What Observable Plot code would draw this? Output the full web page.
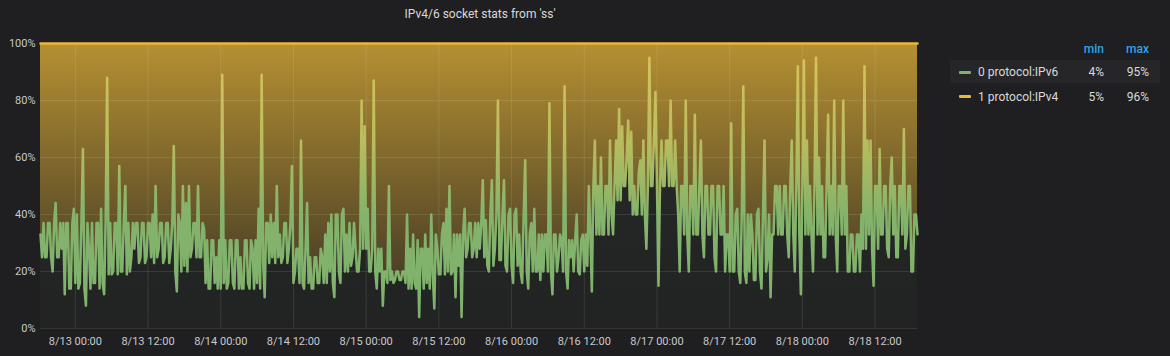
<!DOCTYPE html>
<html><head><meta charset="utf-8">
<script src="https://cdn.jsdelivr.net/npm/d3@7"></script>
<script src="https://cdn.jsdelivr.net/npm/@observablehq/plot@0.6"></script>
<style>
body{margin:0;background:#1f1f21;font-family:Roboto,"Noto Sans",sans-serif;}
#wrap{position:relative;width:1170px;height:356px;overflow:hidden;background:#1f1f21}
#title{position:absolute;left:0;width:960px;top:0;height:28px;line-height:28px;text-align:center;color:#d8d9da;font-size:12px;}
#chart{position:absolute;left:0;top:28px}
.lg{position:absolute;font-size:12px;color:#d8d9da;white-space:nowrap;line-height:14px}
.hd{color:#33a2e5;font-weight:500}
.r{text-align:right}
.sw{position:absolute;width:12px;height:3px;border-radius:1px}
</style></head>
<body><div id="wrap">
<div id="title">IPv4/6 socket stats from 'ss'</div>
<div id="chart"></div>
<div id="legend"></div>
</div>
<script>
// time axis: 15-minute samples starting 8/12 18:15
const startTime = Date.UTC(2019, 7, 12, 18, 15);
const stepMinutes = 15;
const endTime = Date.UTC(2019, 7, 18, 19, 0);
const xTickLabels = ["8/13 00:00","8/13 12:00","8/14 00:00","8/14 12:00","8/15 00:00","8/15 12:00","8/16 00:00","8/16 12:00","8/17 00:00","8/17 12:00","8/18 00:00","8/18 12:00"];
const yTickValues = [0, 20, 40, 60, 80, 100];
const seriesNames = ["0 protocol:IPv6", "1 protocol:IPv4"];
const seriesColors = ["#7eb26d", "#eab839"];
const legendMin = ["4%", "5%"];
const legendMax = ["95%", "96%"];

// IPv6 share (%) per 15-min sample, one block per 24 h
const ipv6Day1 = [
 33,25,37,25,25,37,37,25,20,37,44,25,25,37,28,37,12,37,37,14,
 14,37,42,16,40,14,16,37,63,14,8,37,28,14,37,16,16,37,37,14,
 42,16,12,37,88,19,37,19,20,37,37,19,57,20,20,37,50,19,37,20,
 25,37,28,37,37,23,25,37,37,23,25,37,37,25,40,23,50,25,28,37,
 37,23,25,37,37,23,28,37,64,20,13,40,37,20,50,22
];
const ipv6Day2 = [
 44,20,50,25,28,37,37,25,50,25,25,37,35,16,31,14,14,31,31,16,
 25,14,31,14,89,16,31,14,16,31,31,16,14,31,31,14,25,14,14,31,
 31,16,14,31,28,14,31,16,42,14,89,23,11,37,37,23,40,25,37,23,
 50,25,33,23,25,37,37,23,28,37,57,16,20,28,28,16,66,16,14,28,
 44,16,25,14,14,25,25,16,16,28,25,16,33,16,37,20
];
const ipv6Day3 = [
 40,16,11,40,40,20,16,40,42,20,33,20,37,22,25,37,28,20,20,28,
 80,28,71,28,42,20,20,28,87,20,14,28,20,28,8,20,20,16,50,17,
 20,16,17,20,20,17,17,20,20,16,40,14,28,14,33,16,14,31,4,28,
 28,14,33,16,28,14,40,19,7,33,28,19,19,33,37,19,42,20,50,19,
 20,33,11,33,22,33,4,33,42,25,28,37,37,25,28,37
];
const ipv6Day4 = [
 25,37,28,37,52,25,38,22,20,40,52,22,28,40,80,24,24,40,52,22,
 20,40,42,22,16,40,42,22,33,20,16,40,59,20,14,33,37,20,42,20,
 20,33,17,33,20,33,33,20,79,20,12,33,33,20,25,33,31,20,85,20,
 14,31,25,31,20,31,40,20,19,31,33,20,33,22,50,33,13,50,66,33,
 50,33,60,33,33,50,50,33,66,40,33,50,66,45,77,45
];
const ipv6Day5 = [
 71,50,50,60,73,45,69,40,50,40,40,55,59,40,66,40,28,50,95,50,
 50,66,83,50,15,50,66,50,50,66,66,50,80,50,50,66,50,40,20,50,
 50,33,80,33,20,50,50,33,75,33,33,50,66,33,25,50,50,33,33,50,
 50,25,20,50,50,33,33,50,20,33,33,20,72,20,20,40,42,20,16,40,
 85,20,16,40,20,40,33,17,17,40,42,20,14,40,66,20
];
const ipv6Day6 = [
 25,40,11,33,33,50,50,33,50,33,33,50,50,33,25,50,66,33,20,50,
 92,33,12,50,94,33,66,33,50,33,20,50,95,33,60,33,50,25,25,50,
 75,33,50,33,80,33,20,50,50,33,80,33,50,20,20,33,33,20,20,33,
 33,20,40,28,92,28,66,33,66,28,15,50,50,28,63,33,33,50,50,28,
 25,50,60,33,50,25,25,50,50,33,70,28,33,50,50,20,20,40,40,33
];
const ipv6 = [...ipv6Day1, ...ipv6Day2, ...ipv6Day3, ...ipv6Day4, ...ipv6Day5, ...ipv6Day6];
// IPv4 is the complement in this percent-stacked panel
const ipv4 = ipv6.map(v => 100 - v);

const parseTick = d3.utcParse("%Y %m/%d %H:%M");
const xTicks = xTickLabels.map(s => parseTick("2019 " + s));
const fmt = d3.utcFormat("%-m/%-d %H:%M");

const rows = ipv6.map((v, i) => ({
  t: new Date(startTime + i * stepMinutes * 60000),
  v6: v,
  v4: ipv4[i],
  top: v + ipv4[i]
}));

const chart = Plot.plot({
  width: 930, height: 328,
  marginLeft: 40, marginRight: 13, marginTop: 15, marginBottom: 28,
  style: {background: "transparent", color: "#c7c9cc", fontSize: "11px", fontFamily: "Roboto, sans-serif"},
  x: {type: "utc", domain: [new Date(startTime), new Date(endTime)], ticks: xTicks, tickFormat: fmt, tickSize: 0, tickPadding: 9, label: null},
  y: {domain: [0, 100], ticks: yTickValues, tickFormat: d => d + "%", tickSize: 0, tickPadding: 5, label: null},
  marks: [
    Plot.areaY(rows, {x: "t", y1: 0, y2: "v6", curve: "linear", fill: "url(#g6)"}),
    Plot.areaY(rows, {x: "t", y1: "v6", y2: "top", curve: "linear", fill: "url(#g4)"}),
    Plot.gridX(xTicks, {stroke: "#ffffff", strokeOpacity: 0.1}),
    Plot.gridY(yTickValues, {stroke: "#ffffff", strokeOpacity: 0.1}),
    Plot.line(rows, {x: "t", y: "top", stroke: seriesColors[1], strokeWidth: 2.5, curve: "linear"}),
    Plot.line(rows, {x: "t", y: "v6", stroke: "url(#l6)", strokeWidth: 2.5, curve: "linear", strokeLinejoin: "round"})
  ]
});

const ns = "http://www.w3.org/2000/svg";
const defs = document.createElementNS(ns, "defs");
function grad(id, stops) {
  const g = document.createElementNS(ns, "linearGradient");
  g.setAttribute("id", id);
  g.setAttribute("gradientUnits", "userSpaceOnUse");
  g.setAttribute("x1", 0); g.setAttribute("x2", 0);
  g.setAttribute("y1", 15); g.setAttribute("y2", 300);
  for (const [o, c, a] of stops) {
    const s = document.createElementNS(ns, "stop");
    s.setAttribute("offset", o);
    s.setAttribute("stop-color", c);
    s.setAttribute("stop-opacity", a);
    g.appendChild(s);
  }
  defs.appendChild(g);
}
grad("g4", [[0, "#eab839", 0.74], [1, "#eab839", 0.1]]);
grad("g6", [[0, "#7eb26d", 0.08], [1, "#7eb26d", 0.03]]);
grad("l6", [[0, "#dcc45c", 1], [0.35, "#b8bc5e", 1], [0.6, "#84b36b", 1], [1, "#7eb26d", 1]]);
chart.insertBefore(defs, chart.firstChild);
document.getElementById("chart").appendChild(chart);

// legend
const lg = document.getElementById("legend");
function add(html, cls, style) {
  const d = document.createElement("div");
  d.className = "lg " + cls; d.textContent = html; d.setAttribute("style", style);
  lg.appendChild(d);
}
add("min", "hd r", "left:1064px;width:40px;top:42px");
add("max", "hd r", "left:1109px;width:40px;top:42px");
const rowBg = document.createElement("div");
rowBg.setAttribute("style", "position:absolute;left:950px;top:60px;width:210px;height:23px;background:rgba(255,255,255,0.035)");
lg.appendChild(rowBg);
seriesNames.forEach((n, k) => {
  const cy = 72 + k * 24.5;
  const sw = document.createElement("div");
  sw.className = "sw";
  sw.setAttribute("style", `left:959px;top:${cy - 1.5}px;background:${seriesColors[k]}`);
  lg.appendChild(sw);
  add(n, "", `left:978px;top:${cy - 7}px`);
  add(legendMin[k], "r", `left:1064px;width:40px;top:${cy - 7}px`);
  add(legendMax[k], "r", `left:1109px;width:40px;top:${cy - 7}px`);
});
</script>
</body></html>
